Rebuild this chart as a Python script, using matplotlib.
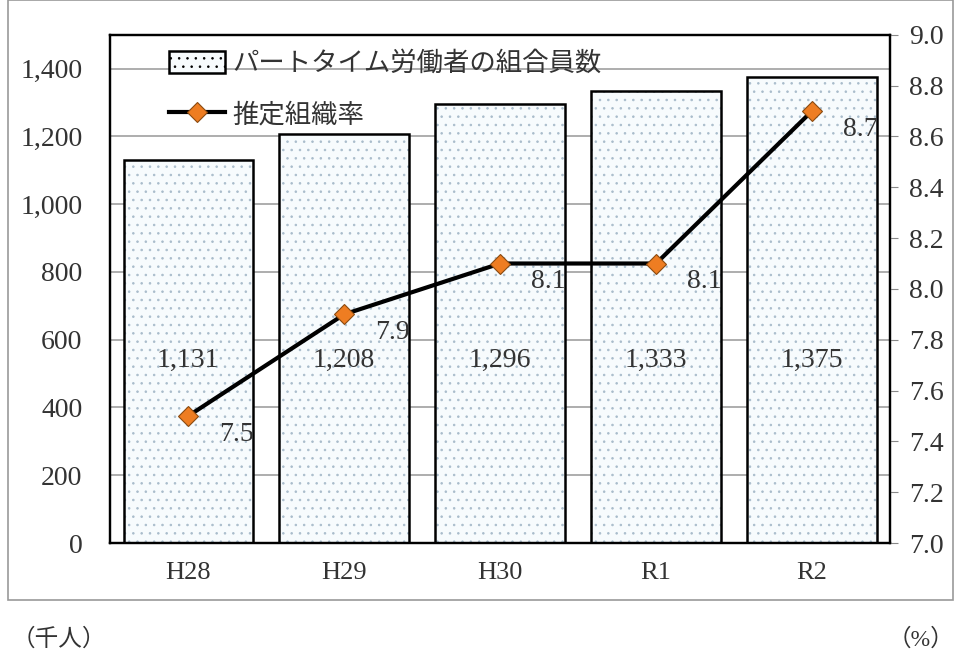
import numpy as np
import matplotlib.pyplot as plt
from matplotlib.patches import Rectangle
from matplotlib.ticker import FuncFormatter

plt.rcParams['font.family'] = ['Liberation Serif', 'Noto Sans CJK JP', 'DejaVu Sans']
plt.rcParams['hatch.linewidth'] = 0.6

years = ['H28', 'H29', 'H30', 'R1', 'R2']
members = [1131, 1208, 1296, 1333, 1375]
rate = [7.5, 7.9, 8.1, 8.1, 8.7]

fig = plt.figure(figsize=(9.59, 6.57), dpi=100)
ax = fig.add_axes([0.115, 0.1735, 0.813, 0.7735])
ax2 = ax.twinx()

x = np.arange(len(years))
# dotted fill first, then the black outline on top
ax.bar(x, members, width=0.83, facecolor='#f7fbfd', edgecolor='#a9bccb',
       linewidth=0, hatch='..', zorder=2)
ax.bar(x, members, width=0.83, fill=False, edgecolor='black', linewidth=1.8, zorder=3)
for xi, v in zip(x, members):
    ax.text(xi, 540, f'{v:,}', ha='center', va='center', fontsize=20, color='#333333', zorder=5)

ax.set_ylim(0, 1500)
ax.set_xlim(-0.5, len(years) - 0.5)
ax.set_yticks(np.arange(0, 1401, 200))
ax.yaxis.set_major_formatter(FuncFormatter(lambda v, p: f'{int(v):,}'))
ax.grid(axis='y', color='#a0a0a0', linewidth=1.2, zorder=0)
ax.set_axisbelow(True)
ax.set_xticks(x)
ax.set_xticklabels(years)
ax.tick_params(axis='x', length=0, pad=14, labelsize=19, labelcolor='#333333')
ax.tick_params(axis='y', length=0, pad=20, labelsize=20, labelcolor='#333333')

ln, = ax2.plot(x, rate, color='black', linewidth=3, marker='D', markersize=10,
               markerfacecolor='#ee7d22', markeredgecolor='#8a4a10', markeredgewidth=0.8,
               zorder=4)
for xi, v in zip(x, rate):
    ax2.annotate(f'{v:.1f}', (xi, v), xytext=(35, -13), textcoords='offset points',
                 ha='center', va='center', fontsize=20, color='#333333')
ax2.set_ylim(7.0, 9.0)
ax2.set_yticks(np.arange(7.0, 9.01, 0.2))
ax2.yaxis.set_major_formatter(FuncFormatter(lambda v, p: f'{v:.1f}'))
ax2.tick_params(axis='y', length=6, color='#888888', pad=8, labelsize=20, labelcolor='#333333')

for a in (ax, ax2):
    for s in a.spines.values():
        s.set_linewidth(1.6)
        s.set_color('black')

bar_handle = Rectangle((0, 0), 1, 1, facecolor='#f7fbfd', edgecolor='black',
                       linewidth=1.8, hatch='..')
leg = ax2.legend([bar_handle, ln], ['パートタイム労働者の組合員数', '推定組織率'],
                 loc='upper left', bbox_to_anchor=(0.045, 1.015), frameon=False,
                 fontsize=19, handlelength=2.1, handleheight=0.9, labelspacing=1.0,
                 handletextpad=0.3)
for t in leg.get_texts():
    t.set_color('#333333')

fig.patches.append(Rectangle((8 / 959, 1 - 600 / 657), 945 / 959, 600 / 657,
                             transform=fig.transFigure, fill=False,
                             edgecolor='#999999', linewidth=1.2))
fig.text(0.012, 1 - 640 / 657, '（千人）', fontsize=17, va='center', ha='left', color='#333333')
fig.text(0.995, 1 - 640 / 657, '（%）', fontsize=17, va='center', ha='right', color='#333333')

fig.savefig('out.png', dpi=100)
